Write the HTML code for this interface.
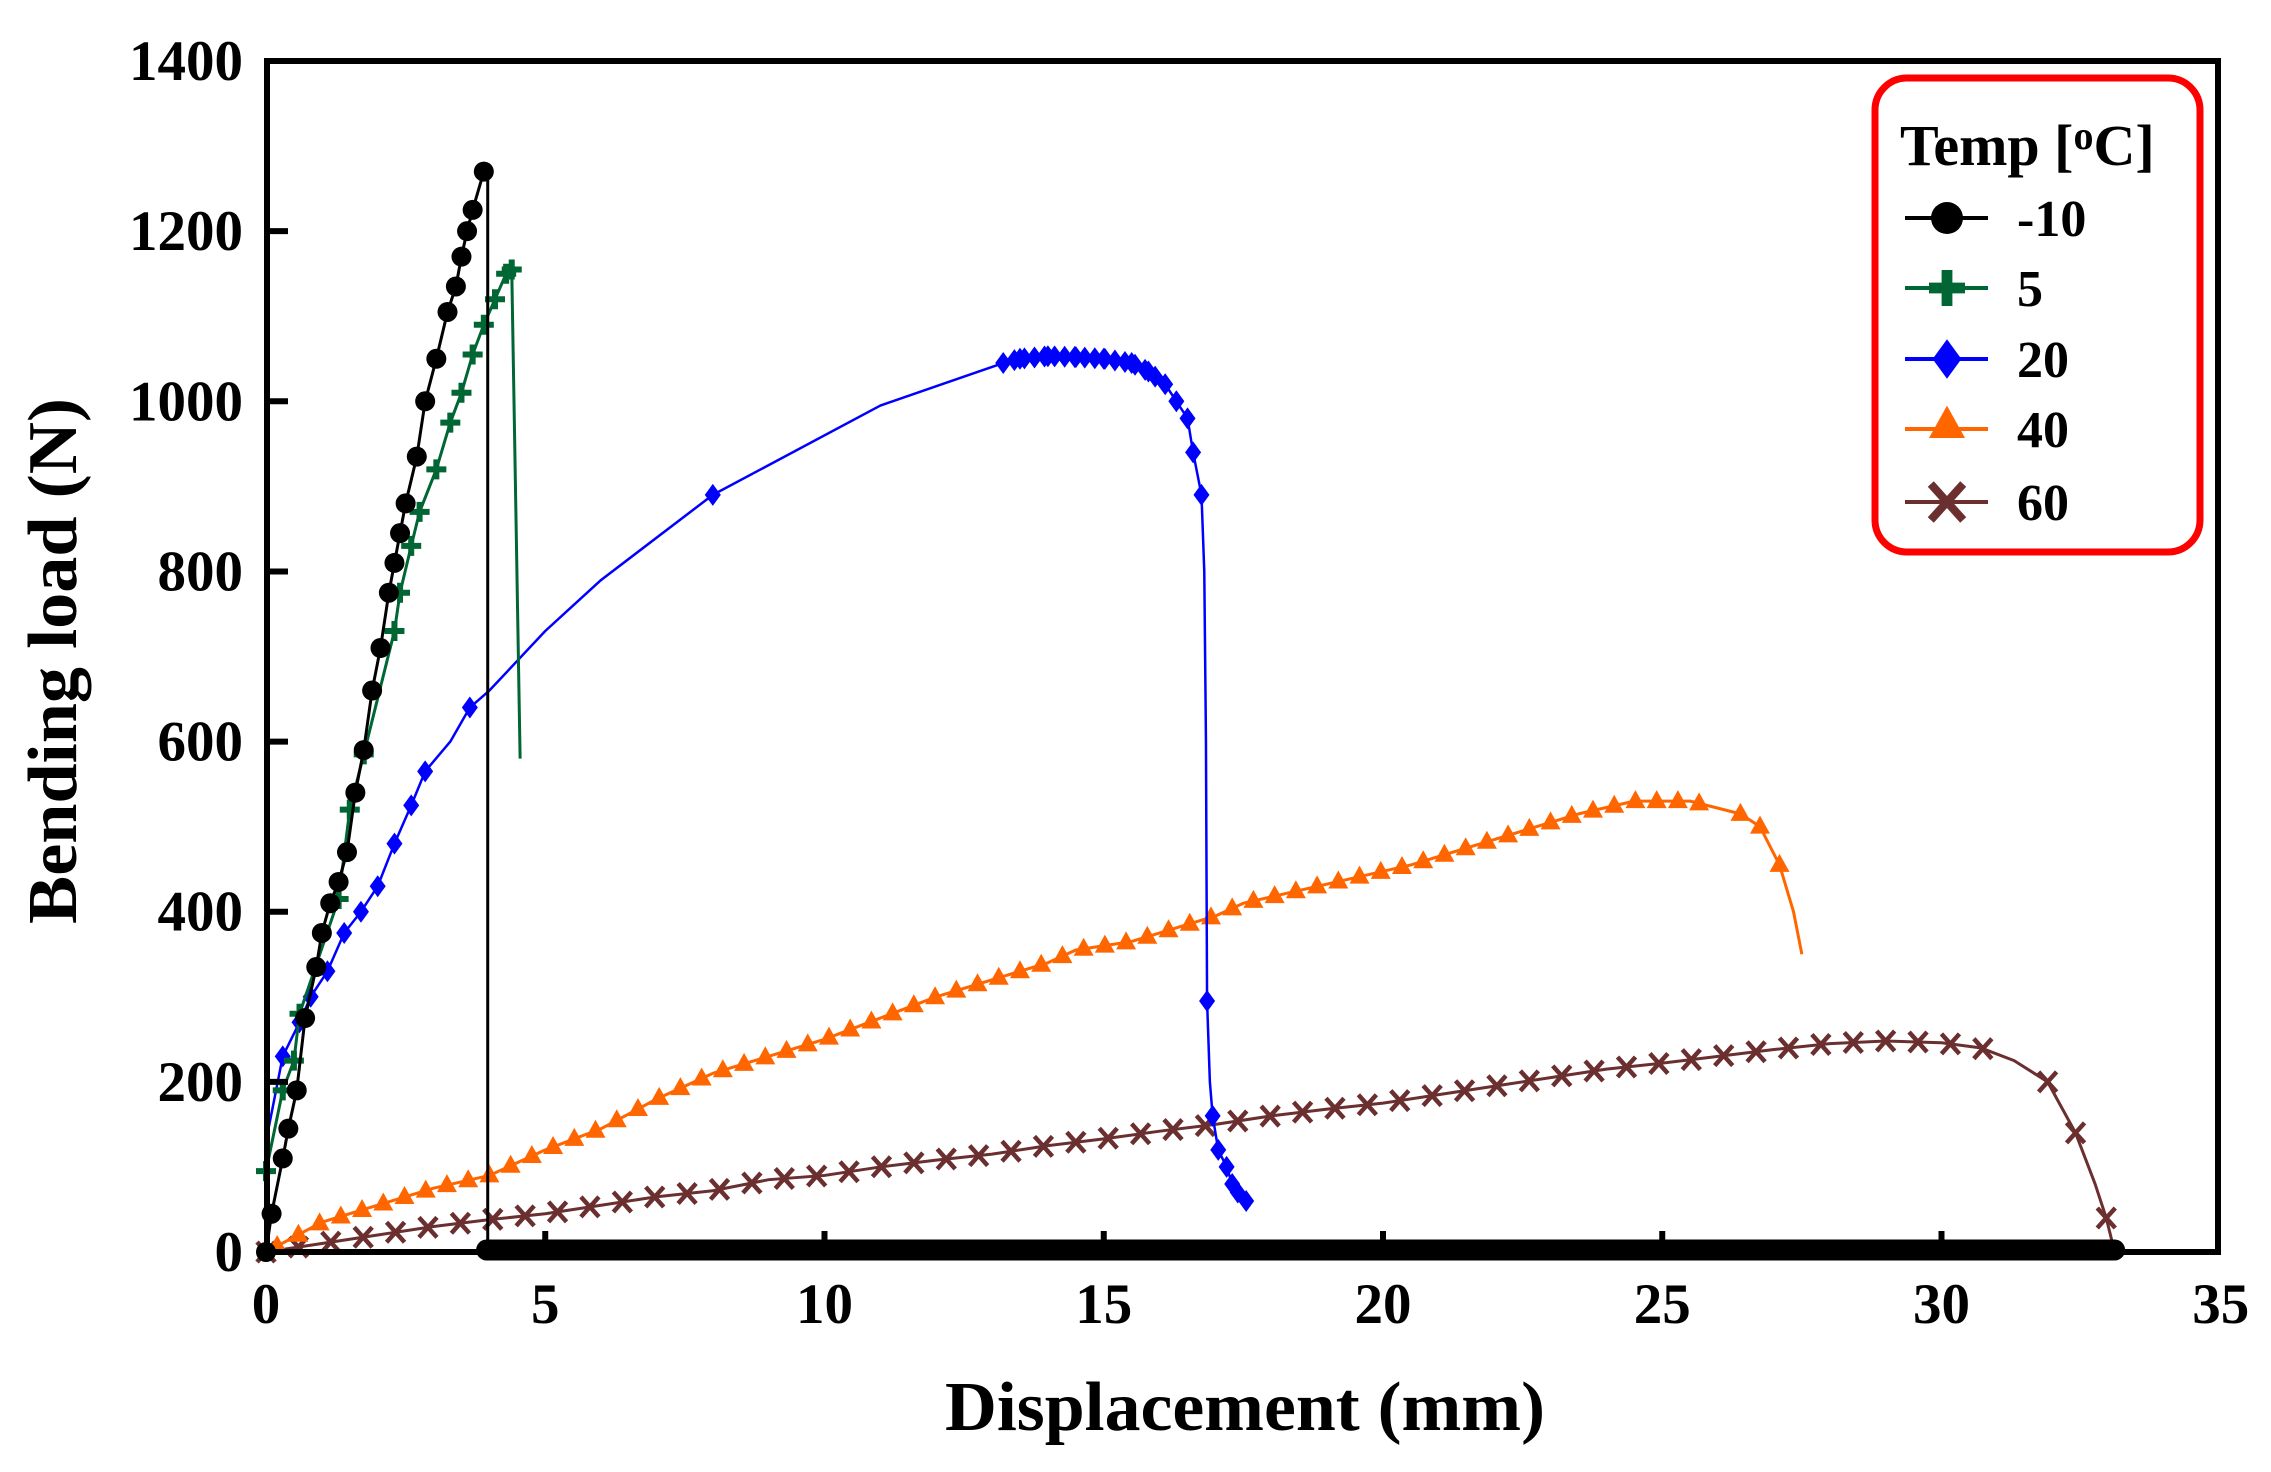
<!DOCTYPE html>
<html><head><meta charset="utf-8"><style>
html,body{margin:0;padding:0;background:#fff;}
svg{display:block;}
text{font-family:"Liberation Serif",serif;font-weight:bold;fill:#000;}
</style></head><body>
<svg id="c" width="2271" height="1472" viewBox="0 0 2271 1472" xmlns="http://www.w3.org/2000/svg">
<g id="data"></g>
<rect x="267" y="61" width="1951" height="1191" fill="none" stroke="#000" stroke-width="6"/>
<g id="ticks" stroke="#000" stroke-width="6"></g>
<g id="labels" font-size="57"></g>
<text x="1245" y="1430" font-size="70" text-anchor="middle" textLength="600" lengthAdjust="spacingAndGlyphs">Displacement (mm)</text>
<text transform="translate(76,661) rotate(-90)" font-size="70" text-anchor="middle" textLength="526" lengthAdjust="spacingAndGlyphs">Bending load (N)</text>
<rect x="1875" y="78" width="325" height="474" rx="32" ry="32" fill="#fff" stroke="#ff0000" stroke-width="7"/>
<text x="1900" y="165" font-size="58">Temp [<tspan font-size="40" dy="-16">o</tspan><tspan dy="16">C]</tspan></text>
<g id="leg" font-size="52"></g>
</svg>
<script>
var NS="http://www.w3.org/2000/svg";
function X(v){return 266+v*55.85;}
function Y(v){return 1252-v*0.8507;}
function el(p,t,a){var e=document.createElementNS(NS,t);for(var k in a)e.setAttribute(k,a[k]);p.appendChild(e);return e;}
var D=document.getElementById('data'),T=document.getElementById('ticks'),L=document.getElementById('labels'),G=document.getElementById('leg');
for(var i=1;i<7;i++){el(T,'line',{x1:X(i*5),y1:1252,x2:X(i*5),y2:1231});}
for(var i=1;i<7;i++){el(T,'line',{x1:267,y1:Y(i*200),x2:288,y2:Y(i*200)});}
for(var i=0;i<8;i++){var t=el(L,'text',{x:X(i*5),y:1323,'text-anchor':'middle'});t.textContent=i*5;}
for(var i=0;i<8;i++){var t=el(L,'text',{x:243,y:Y(i*200)+19,'text-anchor':'end'});t.textContent=i*200;}
function marker(p,type,x,y,col){
 if(type=='c')el(p,'circle',{cx:x,cy:y,r:10,fill:col});
 else if(type=='p'){el(p,'path',{d:'M'+(x-10)+' '+y+'H'+(x+10)+'M'+x+' '+(y-10)+'V'+(y+10),stroke:col,'stroke-width':6,fill:'none'});}
 else if(type=='d'){el(p,'path',{d:'M'+x+' '+(y-11)+'L'+(x+8)+' '+y+'L'+x+' '+(y+11)+'L'+(x-8)+' '+y+'Z',fill:col});}
 else if(type=='t'){el(p,'path',{d:'M'+x+' '+(y-11)+'L'+(x+10)+' '+(y+7)+'L'+(x-10)+' '+(y+7)+'Z',fill:col});}
 else if(type=='x'){el(p,'path',{d:'M'+(x-9)+' '+(y-10)+'L'+(x+9)+' '+(y+10)+'M'+(x+9)+' '+(y-10)+'L'+(x-9)+' '+(y+10),stroke:col,'stroke-width':4.5,fill:'none'});}
}
function line(pts,col,w){el(D,'polyline',{points:pts.map(function(p){return X(p[0])+','+Y(p[1]);}).join(' '),fill:'none',stroke:col,'stroke-width':w||2.5,'stroke-linejoin':'round'});}
function interp(pts,x){for(var i=1;i<pts.length;i++){if(x<=pts[i][0]){var a=pts[i-1],b=pts[i];var f=(b[0]-a[0])?(x-a[0])/(b[0]-a[0]):0;return a[1]+f*(b[1]-a[1]);}}return pts[pts.length-1][1];}
// 60
var br=[[0,0],[1,10],[2,20],[3,30],[4,38],[5,45],[6,55],[7,65],[8,72],[9,85],[10,90],[11,100],[12,108],[13,115],[14,125],[15,133],[16,142],[17,150],[18,160],[19,168],[20,175],[21,185],[22,195],[23,205],[24,215],[25,222],[26,230],[27,238],[28,245],[29,248],[30,246],[30.7,240],[31.3,225],[31.9,200],[32.4,140],[32.75,80],[32.95,40],[33.1,0]];
var brc='#6b2f2f';line(br,brc,3);
for(var x=0;x<=31.3;x+=0.58)marker(D,'x',X(x),Y(interp(br,x)),brc);
[[31.9,200],[32.4,140],[32.95,40]].forEach(function(p){marker(D,'x',X(p[0]),Y(p[1]),brc);});
// 40
var or=[[0,0],[1,35],[2,55],[3,75],[4,90],[5,120],[6,145],[7,180],[8,210],[9,230],[10,250],[11,275],[12,300],[13,320],[14,340],[14.5,355],[15,360],[15.5,365],[16.5,385],[17,395],[17.5,410],[18.5,425],[19.5,440],[20.5,455],[21.5,475],[22.5,495],[23.5,515],[24.5,530],[25.5,530],[26.4,515],[26.75,500],[27.1,455],[27.35,400],[27.5,350]];
var oc='#ff6600';line(or,oc,3);
for(var x=0.2;x<=26;x+=0.38)marker(D,'t',X(x),Y(interp(or,x)),oc);
[[26.4,515],[26.75,500],[27.1,455]].forEach(function(p){marker(D,'t',X(p[0]),Y(p[1]),oc);});
// black baseline
el(D,'line',{x1:X(3.95),y1:Y(0)-2,x2:X(33.1),y2:Y(0)-2,stroke:'#000','stroke-width':21,'stroke-linecap':'round'});
// 20
var bl=[[0,130],[0.3,230],[0.6,270],[0.8,300],[1.1,330],[1.4,375],[1.7,400],[2.0,430],[2.3,480],[2.6,525],[2.85,565],[3.3,600],[3.65,640],[4,660],[5,730],[6,790],[8,890],[11,995],[13.2,1045],[13.5,1050],[14,1053],[14.5,1052],[15,1050],[15.5,1045],[15.8,1035],[16.1,1020],[16.3,1000],[16.5,980],[16.6,940],[16.75,890],[16.8,800],[16.83,600],[16.85,295],[16.9,200],[16.95,160],[17.05,120],[17.2,100],[17.3,80],[17.4,70],[17.55,60]];
var bc='#0000ff';line(bl,bc,2.5);
bl.forEach(function(p,i){if(p[0]>0&&!(p[0]>=4&&p[0]<8)&&p[0]!=11&&p[1]!=800&&p[1]!=600&&p[1]!=200)marker(D,'d',X(p[0]),Y(p[1]),bc);});
for(var x=13.4;x<16;x+=0.18)marker(D,'d',X(x),Y(interp(bl,x)),bc);
// 5
var gr=[[0,95],[0.3,190],[0.5,225],[0.6,280],[1.3,415],[1.5,520],[1.75,585],[2.3,730],[2.4,775],[2.6,830],[2.75,870],[3.05,920],[3.3,975],[3.5,1010],[3.7,1055],[3.9,1090],[4.1,1120],[4.3,1150],[4.4,1155],[4.55,580]];
var gc='#006633';line(gr,gc,3);
gr.slice(0,19).forEach(function(p){marker(D,'p',X(p[0]),Y(p[1]),gc);});
// -10
var bk=[[0,0],[0.1,45],[0.3,110],[0.4,145],[0.55,190],[0.7,275],[0.9,335],[1.0,375],[1.15,410],[1.3,435],[1.45,470],[1.6,540],[1.75,590],[1.9,660],[2.05,710],[2.2,775],[2.3,810],[2.4,845],[2.5,880],[2.7,935],[2.85,1000],[3.05,1050],[3.25,1105],[3.4,1135],[3.5,1170],[3.6,1200],[3.7,1225],[3.9,1270],[3.97,1270],[3.97,0]];
line(bk,'#000',3);
bk.slice(0,28).forEach(function(p){marker(D,'c',X(p[0]),Y(p[1]),'#000');});
// legend
var lg=[['c','#000','-10',218],['p',gc,'5',288],['d',bc,'20',359],['t',oc,'40',429],['x',brc,'60',502]];
lg.forEach(function(r){el(G,'line',{x1:1905,y1:r[3],x2:1988,y2:r[3],stroke:r[1],'stroke-width':4});
 var s=r[0]=='c'?1.6:1.8;var g=el(G,'g',{transform:'translate(1947,'+r[3]+') scale('+s+') translate(-1947,'+(-r[3])+')'});
 marker(g,r[0],1947,r[3]+(r[0]=='t'?-2:0),r[1]);
 var t=el(G,'text',{x:2017,y:r[3]+18});t.textContent=r[2];});
</script>
</body></html>
